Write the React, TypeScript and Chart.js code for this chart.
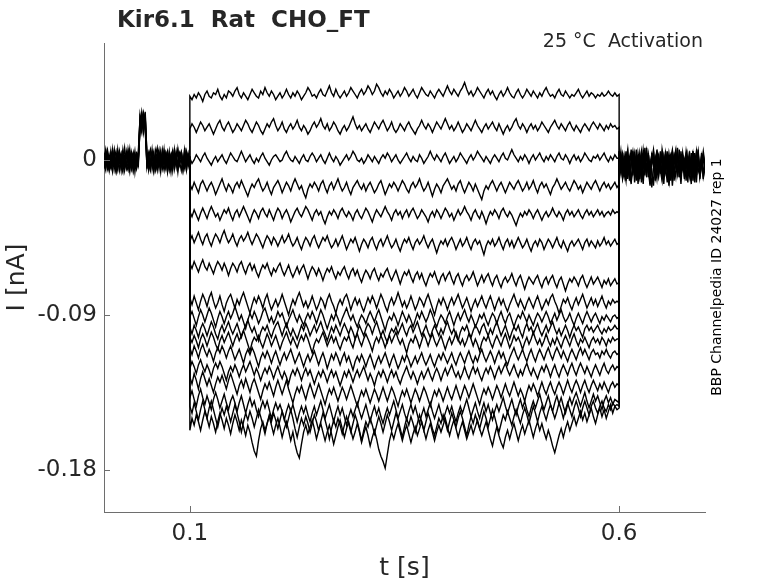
import { useEffect, useRef } from "react";
import Chart from "chart.js/auto";

// sample window edges (s)
const PRE_START = 0;
const STEP_START = 0.1;
const STEP_END = 0.6;
const POST_END = 0.7;

const X_TICKS = [0.1, 0.6];
const Y_TICKS = [-0.18, -0.09, 0];

// holding current before the step (pA), 0 .. 0.1 s, test pulse near 0.042-0.048 s
const PRE_1 = [3,-4,1,-6,2,5,-2,-7,0,4,-3,6,-1,-5,2,-3,4,-6,1,-2,3,24,18,27,21,-4,2,6,-3,-7,1,4,-2,5,-5,0,3,-6,2,-1,5,-4,1,-7,3,0,-3,6,-2,2,-5];
const PRE_2 = [-5,2,6,-1,-4,3,0,-6,5,1,-3,-7,2,4,-2,6,-5,0,3,-4,1,17,25,20,28,2,-5,-1,4,-6,3,7,-3,0,-4,5,1,-7,2,-2,4,-5,3,6,-1,-6,2,-3,5,0,-4];
const PRE_3 = [1,5,-3,-6,4,-1,2,-5,6,-2,0,3,-6,1,5,-4,-1,4,-7,2,0,22,26,16,24,5,-2,-6,3,0,-4,2,6,-5,1,-3,4,-1,-6,3,5,-2,0,-5,4,1,-3,7,-4,-1,2];
const PRE_4 = [-2,-6,4,1,-3,6,-5,2,-1,5,-4,0,7,-3,-6,3,1,-2,5,-5,-1,26,20,23,17,-1,4,-4,1,5,-6,-2,3,-3,6,0,-5,4,1,-7,2,-1,5,-3,0,3,-6,1,4,-4,0];
const PRE_5 = [4,0,-5,3,-2,-7,1,5,-3,2,-6,4,0,-4,6,-1,-5,2,-3,4,2,19,28,22,25,-3,1,5,-5,2,-1,-6,4,0,-3,6,-4,1,-2,3,-6,4,0,-4,2,5,-1,-5,3,-2,1];
const PRE_6 = [0,6,-2,-4,5,-3,3,-1,-6,1,4,-5,2,-2,-4,5,0,-6,3,1,-3,21,16,26,19,3,-6,0,2,-3,5,-4,1,-7,3,-1,4,-2,5,-5,0,2,-4,6,-3,1,-6,3,-1,4,-2];
const PRE_7 = [-4,1,3,-2,-5,0,6,-4,2,-6,1,3,-3,5,-1,-7,2,4,-4,0,5,25,22,18,27,-5,3,-2,6,-4,0,2,-5,4,-1,-6,1,5,-3,2,-4,6,-2,-5,1,4,-3,0,-6,3,1];

// tail after the step (pA), 0.6 .. 0.7 s
const POST_1 = [-3,5,-8,1,-12,3,-5,-14,2,-6,6,-9,-1,-13,4,-4,7,-10,0,-6,-15,2,-3,-9,5,-11,-2,3,-7,-13,1,6,-4,-10,2,-3,-14,3,-6,5,-2,-9,4,-12,0,-5,6,-8,-1,3,-4];
const POST_2 = [2,-6,4,-10,-1,6,-8,-3,5,-13,-4,1,-7,3,-11,-2,5,-6,-15,-3,2,-9,6,-4,0,-10,-3,4,-7,2,-12,-4,3,-1,-8,6,-5,0,-11,3,-6,2,-9,5,-3,-13,1,-5,4,-8,-2];
const POST_3 = [-7,0,4,-5,-12,2,-3,6,-9,-1,-5,3,-11,0,-4,7,-7,-2,-14,4,-3,-10,1,3,-6,-12,2,-4,5,-8,-1,-15,-3,4,-7,0,-11,2,-4,3,-9,1,-6,5,-13,-2,3,-7,0,-10,-5];
const POST_4 = [4,-3,-10,2,-6,3,-12,-1,5,-4,0,-8,4,-3,-14,2,-5,3,-9,0,6,-4,-11,1,-2,4,-8,-3,-13,0,3,-7,2,-4,7,-10,0,-5,-2,3,-8,5,-12,-1,2,-6,4,-9,-3,1,-7];
const POST_5 = [-1,-8,2,-4,5,-11,-3,3,-7,0,-12,4,-2,-6,2,-9,3,-4,-1,-16,-5,0,4,-7,-3,2,-10,5,-4,-1,-8,3,-12,0,4,-5,-3,2,-9,-1,1,-6,-14,3,-2,5,-7,-4,2,-11,0];
const POST_6 = [5,-5,-1,-9,3,-6,1,-13,-2,4,-7,2,-10,-4,6,-3,-8,1,-12,3,-1,-6,5,-9,-2,2,-14,0,-5,4,-3,-11,1,6,-6,-2,-9,4,-4,0,-13,2,-5,3,-8,-1,5,-10,-3,2,-6];
const POST_7 = [-4,2,-11,-6,1,5,-9,-2,3,-7,1,-14,-3,5,-5,0,-10,4,-6,-2,3,-12,-4,2,-8,6,-1,-7,3,-15,-2,4,-6,-3,1,-10,5,-5,0,-12,3,-4,-1,-9,4,-6,2,-11,-2,5,-3];

// current during the 0.1 .. 0.6 s step, one sweep per array (pA)
const SWEEP_1 = [37,35,38,36,39,37,34,38,40,37,36,39,38,41,37,35,38,36,40,39,37,40,42,38,36,39,37,35,38,41,39,37,36,40,38,42,39,37,40,38,35,37,39,36,38,41,38,36,39,37,40,38,35,37,39,42,40,37,38,36,39,41,38,37,40,43,39,37,41,38,36,38,40,37,39,42,40,38,36,39,41,38,40,43,41,38,40,44,42,39,37,40,38,41,39,36,38,40,37,39,42,40,37,39,41,38,36,39,42,40,38,37,40,38,36,39,41,39,37,40,43,40,38,41,39,37,40,42,45,41,38,40,37,39,42,40,38,36,39,41,38,40,37,35,38,40,37,39,42,39,37,36,39,41,38,36,38,41,39,37,40,38,36,39,37,40,42,39,37,38,36,39,41,38,37,40,38,36,38,37,39,41,38,36,38,40,37,39,38,36,38,37,39,37,38,40,38,37,39,37,38];
const SWEEP_2 = [18,21,19,16,19,22,20,17,19,21,18,15,18,21,23,19,17,20,22,19,16,18,21,19,17,20,23,21,18,16,19,22,20,17,15,18,21,19,22,24,20,17,19,22,18,16,19,21,18,20,23,19,17,20,18,15,17,20,22,19,21,24,20,18,21,17,19,22,20,17,15,18,20,17,19,22,25,21,18,20,17,19,21,18,16,19,22,20,18,21,23,20,17,19,22,18,16,18,21,19,17,20,22,19,17,15,18,20,23,20,18,21,19,16,19,22,20,18,21,24,21,18,20,17,19,22,19,16,18,21,19,17,20,23,20,18,16,19,21,18,20,22,19,17,21,18,15,18,20,17,19,22,24,20,18,21,19,16,19,21,18,20,17,19,22,20,18,16,19,21,23,20,18,21,19,17,20,22,19,17,20,18,16,19,21,19,17,20,22,20,18,21,19,17,20,18,21,19,20,18,19];
const SWEEP_3 = [1,-2,0,3,1,-1,2,4,1,-1,-3,0,2,-1,1,3,0,-2,1,4,2,0,-1,2,5,2,-1,1,3,0,-2,1,-1,2,4,1,-1,-3,0,2,3,1,-1,0,3,5,2,0,-1,2,0,-2,1,3,0,-1,2,4,2,-1,1,3,0,-2,1,4,1,-1,2,0,-3,-1,1,3,0,2,5,3,0,-1,1,-2,0,3,1,-1,2,0,-2,1,3,1,4,2,-1,1,3,0,-2,0,2,4,1,-1,2,0,-1,3,1,-2,0,2,5,2,0,3,1,-1,2,4,1,-2,0,2,-1,1,4,2,0,-2,1,3,0,2,5,3,1,-1,2,0,-2,1,3,1,-1,2,4,1,0,3,6,3,1,-1,2,0,3,1,-2,1,3,0,2,4,1,-1,2,0,3,1,-1,2,4,1,0,3,1,-2,1,3,0,2,-1,1,4,2,0,-1,2,1,3,0,2,4,1,-1,2,0,3,1,1];
const SWEEP_4 = [-14,-17,-13,-16,-19,-14,-12,-15,-18,-15,-13,-16,-20,-17,-14,-11,-15,-18,-14,-16,-19,-15,-13,-16,-12,-15,-18,-21,-17,-14,-16,-13,-11,-15,-18,-16,-13,-17,-20,-16,-14,-12,-15,-19,-16,-13,-15,-18,-14,-11,-14,-17,-15,-19,-22,-17,-14,-16,-13,-15,-18,-14,-12,-16,-19,-15,-13,-17,-14,-11,-15,-18,-16,-13,-17,-20,-16,-14,-12,-15,-17,-14,-18,-15,-13,-16,-19,-17,-14,-12,-16,-20,-17,-14,-16,-13,-15,-18,-15,-12,-14,-17,-19,-15,-13,-16,-14,-11,-15,-18,-16,-13,-17,-21,-17,-14,-16,-19,-15,-13,-11,-14,-17,-15,-18,-14,-12,-16,-19,-16,-13,-15,-18,-14,-17,-20,-23,-18,-15,-17,-14,-12,-15,-18,-15,-13,-16,-19,-16,-13,-15,-17,-14,-12,-15,-18,-16,-13,-17,-15,-12,-16,-19,-15,-13,-16,-14,-17,-20,-16,-14,-11,-14,-17,-15,-13,-16,-18,-15,-12,-14,-17,-15,-19,-16,-13,-15,-17,-14,-12,-15,-18,-15,-13,-16,-14,-17,-15,-13,-16,-14];
const SWEEP_5 = [-30,-33,-29,-32,-35,-31,-28,-31,-34,-30,-27,-30,-33,-31,-35,-32,-29,-31,-28,-32,-35,-31,-29,-33,-30,-27,-30,-33,-36,-32,-29,-31,-34,-30,-28,-31,-33,-29,-32,-35,-31,-28,-30,-34,-31,-29,-32,-36,-33,-30,-28,-31,-33,-30,-27,-29,-32,-35,-31,-29,-32,-30,-34,-37,-33,-30,-32,-29,-31,-34,-30,-28,-31,-33,-30,-32,-35,-31,-29,-32,-34,-31,-28,-30,-33,-36,-32,-29,-31,-33,-30,-27,-30,-32,-35,-31,-29,-32,-30,-34,-31,-29,-33,-30,-28,-31,-34,-32,-29,-31,-33,-36,-32,-30,-33,-29,-31,-34,-31,-28,-30,-33,-31,-35,-32,-29,-32,-30,-27,-30,-32,-35,-31,-29,-32,-34,-30,-33,-37,-33,-30,-32,-29,-31,-34,-30,-28,-31,-33,-30,-32,-35,-38,-34,-31,-33,-30,-32,-29,-31,-34,-31,-29,-32,-35,-32,-30,-33,-31,-28,-31,-33,-30,-32,-35,-31,-29,-32,-30,-33,-31,-29,-32,-34,-31,-29,-32,-30,-33,-31,-29,-32,-30,-33,-31,-30,-32,-29,-31,-30,-31];
const SWEEP_6 = [-47,-44,-48,-45,-42,-46,-49,-45,-43,-47,-50,-46,-43,-45,-48,-44,-41,-45,-48,-46,-43,-47,-50,-46,-44,-47,-45,-42,-46,-49,-46,-43,-45,-48,-51,-47,-44,-46,-49,-45,-47,-50,-47,-44,-48,-46,-43,-47,-50,-48,-45,-49,-52,-48,-45,-47,-50,-46,-44,-48,-51,-48,-45,-47,-44,-48,-51,-49,-46,-50,-47,-44,-48,-52,-49,-46,-48,-45,-49,-53,-49,-46,-48,-51,-47,-45,-49,-52,-48,-46,-50,-47,-44,-48,-51,-49,-46,-50,-53,-49,-46,-48,-45,-49,-52,-48,-46,-49,-47,-44,-48,-51,-48,-46,-50,-54,-50,-47,-49,-46,-50,-47,-45,-48,-52,-49,-46,-50,-48,-45,-49,-52,-48,-46,-49,-47,-51,-55,-50,-47,-49,-46,-50,-48,-45,-49,-52,-48,-46,-50,-47,-51,-48,-45,-48,-51,-49,-46,-50,-53,-49,-47,-50,-46,-48,-52,-49,-46,-48,-51,-48,-45,-49,-51,-47,-50,-53,-49,-47,-50,-48,-46,-49,-52,-48,-46,-50,-47,-49,-51,-47,-50,-48,-45,-49,-47,-50,-48,-46,-49,-48];
const SWEEP_7 = [-60,-63,-59,-62,-65,-61,-58,-62,-64,-60,-63,-66,-62,-59,-61,-64,-60,-63,-67,-63,-60,-62,-65,-61,-59,-63,-66,-62,-60,-64,-61,-65,-68,-64,-61,-63,-60,-64,-67,-63,-65,-62,-60,-64,-67,-64,-61,-65,-68,-65,-62,-66,-63,-61,-65,-69,-65,-62,-64,-67,-63,-66,-70,-66,-63,-65,-62,-66,-69,-65,-67,-64,-62,-66,-69,-65,-63,-67,-64,-68,-71,-67,-64,-66,-69,-65,-63,-67,-70,-66,-68,-65,-63,-67,-70,-67,-64,-68,-72,-68,-65,-67,-64,-68,-71,-67,-65,-69,-66,-70,-73,-69,-66,-68,-65,-69,-72,-68,-66,-70,-67,-65,-69,-72,-68,-66,-70,-73,-69,-67,-70,-68,-65,-69,-73,-70,-67,-71,-68,-66,-70,-73,-69,-67,-71,-74,-70,-68,-71,-69,-66,-70,-73,-69,-67,-71,-75,-71,-68,-70,-72,-69,-67,-71,-74,-70,-68,-72,-69,-67,-71,-74,-70,-68,-72,-76,-72,-69,-71,-68,-70,-73,-69,-67,-71,-74,-71,-68,-72,-70,-68,-71,-74,-70,-72,-69,-73,-71,-69,-72,-71];
const SWEEP_8 = [-80,-84,-79,-83,-87,-82,-78,-81,-85,-80,-77,-82,-86,-83,-79,-84,-88,-83,-80,-78,-82,-86,-81,-84,-80,-77,-81,-85,-89,-84,-80,-83,-79,-82,-86,-81,-78,-83,-87,-84,-81,-85,-82,-78,-82,-86,-90,-85,-81,-84,-80,-77,-81,-85,-82,-86,-83,-79,-83,-87,-84,-80,-82,-86,-81,-78,-82,-85,-89,-84,-81,-84,-80,-78,-82,-87,-83,-80,-84,-81,-85,-88,-84,-80,-83,-79,-82,-86,-82,-78,-81,-85,-88,-83,-80,-84,-81,-77,-81,-85,-82,-86,-83,-79,-83,-87,-84,-80,-82,-85,-81,-78,-82,-86,-90,-85,-81,-84,-80,-83,-87,-83,-80,-84,-81,-78,-82,-86,-83,-80,-84,-88,-84,-81,-85,-82,-79,-83,-86,-82,-79,-83,-87,-83,-80,-84,-81,-85,-88,-84,-81,-78,-82,-85,-81,-84,-87,-83,-80,-83,-86,-82,-79,-83,-87,-84,-81,-84,-80,-78,-82,-85,-89,-85,-81,-83,-80,-84,-87,-83,-80,-84,-81,-78,-82,-86,-83,-80,-84,-81,-85,-82,-79,-83,-86,-82,-84,-81,-83,-82,-83];
const SWEEP_9 = [-91,-88,-92,-96,-91,-87,-90,-94,-90,-86,-89,-93,-97,-92,-88,-91,-95,-91,-88,-92,-89,-85,-89,-93,-90,-94,-98,-93,-89,-92,-88,-91,-95,-92,-88,-86,-90,-94,-91,-95,-92,-88,-91,-89,-93,-97,-93,-90,-87,-91,-94,-90,-93,-96,-92,-89,-92,-88,-91,-95,-91,-87,-90,-94,-98,-94,-90,-93,-89,-92,-96,-92,-89,-86,-90,-93,-90,-94,-97,-93,-90,-92,-95,-91,-88,-91,-94,-90,-87,-91,-95,-99,-94,-91,-93,-89,-92,-96,-92,-88,-91,-94,-90,-93,-97,-93,-89,-92,-88,-91,-94,-91,-87,-90,-94,-97,-93,-90,-92,-95,-91,-88,-92,-96,-92,-89,-93,-90,-87,-91,-94,-90,-93,-97,-94,-90,-92,-89,-93,-96,-92,-89,-91,-95,-91,-88,-92,-95,-91,-89,-93,-97,-93,-90,-92,-88,-91,-94,-90,-93,-96,-92,-89,-91,-94,-91,-88,-91,-95,-92,-89,-93,-90,-87,-91,-94,-92,-89,-93,-96,-92,-89,-92,-95,-91,-88,-91,-94,-91,-89,-92,-95,-91,-93,-90,-92,-94,-91,-90,-92,-91];
const SWEEP_10 = [-97,-101,-96,-99,-103,-98,-95,-98,-102,-98,-94,-97,-101,-104,-99,-96,-100,-97,-94,-98,-101,-98,-95,-99,-103,-99,-96,-93,-97,-100,-97,-101,-105,-100,-97,-99,-96,-100,-103,-99,-96,-94,-98,-102,-98,-95,-99,-102,-98,-101,-104,-100,-96,-99,-95,-98,-102,-99,-96,-100,-97,-94,-98,-101,-105,-101,-97,-100,-96,-99,-102,-98,-95,-98,-101,-97,-100,-104,-100,-96,-99,-102,-98,-95,-97,-101,-97,-94,-98,-102,-99,-103,-106,-101,-98,-100,-97,-101,-98,-95,-99,-102,-98,-96,-100,-97,-94,-98,-102,-99,-96,-100,-103,-99,-96,-99,-102,-98,-101,-97,-94,-98,-101,-98,-102,-105,-100,-97,-99,-96,-100,-103,-99,-96,-98,-101,-97,-95,-99,-102,-98,-101,-97,-94,-98,-102,-99,-96,-100,-104,-100,-97,-99,-96,-100,-103,-98,-95,-99,-97,-101,-98,-95,-99,-102,-99,-96,-100,-97,-94,-98,-101,-98,-102,-99,-96,-99,-103,-99,-96,-99,-97,-100,-103,-98,-96,-99,-97,-100,-98,-96,-99,-101,-98,-100,-97,-99,-98,-96,-98,-98];
const SWEEP_11 = [-103,-106,-102,-105,-109,-104,-101,-104,-108,-104,-100,-103,-107,-110,-105,-102,-106,-103,-100,-104,-108,-104,-101,-105,-102,-99,-103,-107,-111,-106,-103,-105,-102,-106,-109,-105,-101,-104,-108,-105,-102,-106,-110,-106,-103,-100,-104,-107,-103,-106,-109,-105,-102,-105,-101,-104,-108,-112,-107,-104,-106,-103,-100,-104,-108,-105,-102,-106,-103,-107,-110,-106,-103,-105,-102,-106,-109,-104,-101,-105,-108,-104,-101,-104,-107,-111,-106,-103,-106,-102,-105,-109,-105,-102,-106,-103,-100,-104,-107,-104,-108,-112,-107,-104,-106,-102,-105,-109,-105,-101,-104,-108,-104,-101,-105,-108,-105,-102,-106,-110,-106,-103,-107,-104,-100,-104,-107,-104,-108,-105,-101,-104,-108,-104,-107,-111,-106,-103,-105,-102,-106,-109,-105,-102,-105,-108,-104,-101,-105,-109,-106,-102,-105,-103,-106,-110,-106,-103,-107,-104,-100,-104,-107,-104,-108,-105,-101,-105,-108,-104,-107,-103,-106,-109,-105,-102,-105,-108,-104,-101,-105,-108,-104,-106,-103,-106,-109,-105,-103,-106,-104,-107,-103,-105,-108,-104,-106,-103,-105,-104,-104];
const SWEEP_12 = [-109,-113,-108,-111,-115,-110,-107,-111,-114,-110,-113,-117,-112,-109,-112,-108,-111,-115,-111,-108,-112,-116,-113,-110,-114,-118,-113,-110,-113,-109,-112,-116,-120,-115,-112,-115,-111,-114,-118,-114,-111,-115,-119,-115,-112,-116,-113,-110,-114,-118,-115,-112,-116,-120,-116,-113,-117,-114,-111,-115,-119,-115,-112,-116,-121,-117,-113,-116,-112,-115,-119,-115,-112,-117,-114,-118,-122,-117,-114,-117,-113,-116,-120,-116,-113,-117,-121,-117,-114,-118,-115,-112,-116,-120,-116,-113,-117,-121,-118,-114,-117,-113,-116,-120,-117,-114,-118,-115,-112,-116,-119,-116,-113,-117,-120,-116,-113,-116,-112,-115,-118,-115,-112,-116,-119,-115,-112,-115,-118,-114,-111,-115,-118,-114,-117,-113,-110,-114,-117,-114,-111,-114,-118,-114,-111,-115,-112,-116,-119,-115,-112,-109,-113,-116,-113,-110,-114,-117,-113,-110,-114,-117,-113,-110,-113,-116,-112,-109,-113,-116,-112,-109,-112,-115,-111,-114,-117,-113,-110,-113,-116,-112,-109,-113,-110,-113,-116,-112,-110,-113,-112,-115,-111,-113,-110,-113,-115,-112,-111,-113,-112];
const SWEEP_13 = [-121,-117,-120,-124,-119,-116,-120,-123,-119,-122,-126,-121,-118,-121,-117,-120,-124,-128,-123,-120,-123,-119,-122,-126,-122,-119,-123,-120,-117,-121,-125,-121,-124,-128,-124,-121,-124,-120,-123,-127,-123,-120,-124,-127,-123,-126,-130,-125,-122,-125,-121,-124,-128,-124,-121,-125,-122,-126,-130,-126,-123,-126,-122,-125,-129,-125,-122,-126,-123,-127,-131,-127,-123,-126,-122,-125,-129,-125,-122,-126,-123,-120,-124,-128,-124,-127,-131,-126,-123,-126,-122,-125,-129,-125,-122,-126,-123,-127,-130,-126,-123,-120,-124,-127,-123,-126,-130,-126,-123,-127,-124,-121,-125,-128,-124,-121,-124,-128,-124,-121,-125,-122,-119,-123,-126,-123,-127,-124,-120,-124,-127,-123,-120,-124,-121,-125,-128,-124,-121,-124,-120,-123,-127,-123,-120,-124,-121,-118,-122,-125,-122,-119,-123,-126,-122,-125,-121,-118,-122,-125,-121,-124,-127,-123,-120,-123,-119,-122,-126,-122,-119,-123,-126,-122,-119,-122,-125,-121,-118,-122,-125,-121,-118,-121,-124,-120,-123,-126,-122,-119,-122,-125,-121,-118,-122,-124,-121,-119,-122,-120,-121];
const SWEEP_14 = [-126,-130,-124,-128,-133,-127,-123,-127,-131,-127,-131,-135,-130,-126,-129,-125,-129,-133,-128,-124,-128,-132,-136,-131,-128,-132,-127,-131,-135,-130,-127,-131,-135,-139,-134,-130,-133,-129,-133,-137,-132,-128,-132,-136,-132,-128,-133,-137,-141,-136,-132,-135,-131,-135,-139,-134,-130,-134,-138,-134,-130,-134,-138,-142,-137,-133,-136,-132,-136,-140,-136,-132,-135,-139,-135,-131,-135,-139,-143,-138,-134,-137,-133,-137,-141,-137,-133,-136,-140,-136,-132,-136,-140,-136,-132,-135,-139,-143,-138,-134,-137,-133,-137,-141,-137,-133,-136,-140,-136,-132,-135,-139,-143,-138,-134,-137,-133,-136,-140,-136,-132,-136,-139,-135,-131,-135,-139,-135,-131,-134,-138,-134,-130,-134,-138,-142,-137,-133,-136,-132,-135,-139,-135,-131,-134,-138,-134,-130,-134,-137,-133,-129,-133,-137,-133,-136,-140,-135,-131,-134,-130,-133,-137,-133,-129,-133,-136,-132,-129,-133,-136,-132,-129,-132,-136,-132,-128,-132,-135,-131,-128,-131,-135,-131,-128,-132,-135,-131,-128,-131,-134,-130,-133,-129,-132,-135,-131,-129,-132,-130,-131];
const SWEEP_15 = [-138,-134,-139,-143,-137,-133,-138,-142,-137,-141,-145,-139,-135,-139,-144,-140,-136,-141,-145,-140,-137,-141,-146,-141,-137,-142,-147,-142,-138,-143,-140,-145,-149,-144,-140,-144,-140,-145,-150,-145,-141,-145,-142,-146,-151,-146,-142,-146,-142,-147,-152,-147,-143,-147,-143,-148,-152,-147,-143,-148,-144,-140,-145,-150,-146,-142,-147,-152,-147,-143,-148,-144,-149,-154,-149,-145,-149,-145,-141,-146,-150,-146,-142,-147,-152,-147,-143,-148,-144,-149,-153,-148,-144,-148,-144,-140,-145,-150,-146,-142,-147,-151,-146,-142,-147,-143,-148,-153,-148,-144,-149,-145,-141,-146,-150,-146,-142,-147,-151,-147,-143,-147,-143,-148,-152,-147,-143,-147,-143,-139,-144,-149,-145,-141,-146,-150,-145,-141,-146,-142,-147,-151,-146,-142,-146,-142,-138,-143,-147,-143,-139,-144,-148,-143,-139,-144,-140,-145,-149,-144,-140,-144,-140,-136,-141,-145,-141,-137,-142,-146,-141,-137,-142,-138,-143,-147,-142,-138,-142,-138,-135,-139,-143,-139,-135,-140,-144,-140,-136,-140,-137,-141,-145,-140,-137,-141,-138,-142,-139,-140,-141];
const SWEEP_16 = [-143,-147,-141,-146,-151,-145,-140,-145,-150,-144,-140,-145,-150,-155,-149,-144,-148,-143,-147,-152,-147,-142,-147,-152,-158,-152,-147,-151,-146,-150,-155,-150,-145,-149,-154,-159,-153,-148,-152,-147,-151,-156,-151,-146,-150,-155,-150,-145,-150,-156,-161,-155,-150,-154,-149,-153,-158,-153,-148,-152,-157,-152,-147,-151,-156,-162,-156,-151,-155,-150,-154,-159,-154,-149,-153,-158,-153,-148,-152,-157,-163,-157,-152,-155,-150,-154,-159,-154,-149,-153,-158,-153,-148,-152,-157,-152,-147,-151,-156,-161,-155,-150,-154,-149,-153,-158,-153,-148,-152,-157,-152,-147,-151,-156,-160,-155,-150,-153,-148,-152,-157,-152,-147,-151,-155,-150,-146,-150,-155,-160,-154,-149,-153,-148,-152,-156,-151,-146,-150,-155,-150,-145,-149,-154,-158,-153,-148,-151,-146,-150,-154,-149,-145,-149,-153,-148,-144,-148,-153,-148,-143,-147,-152,-147,-143,-147,-151,-146,-142,-146,-150,-146,-141,-145,-150,-145,-141,-145,-149,-144,-140,-144,-149,-144,-140,-144,-148,-143,-140,-144,-147,-143,-140,-144,-146,-142,-145,-141,-143,-142,-143];
const SWEEP_17 = [-157,-150,-154,-148,-152,-157,-151,-146,-150,-155,-149,-153,-158,-152,-147,-151,-156,-150,-154,-159,-153,-148,-152,-157,-151,-155,-160,-154,-158,-164,-169,-172,-163,-156,-152,-157,-153,-149,-154,-159,-154,-150,-155,-161,-156,-152,-157,-163,-158,-165,-170,-173,-165,-158,-154,-159,-155,-151,-156,-162,-157,-153,-158,-163,-158,-154,-159,-165,-160,-155,-151,-156,-161,-156,-152,-157,-162,-158,-153,-158,-164,-159,-155,-160,-166,-161,-157,-162,-168,-172,-175,-179,-171,-163,-158,-162,-157,-153,-158,-163,-158,-154,-159,-164,-159,-155,-160,-156,-152,-157,-162,-157,-153,-158,-163,-158,-154,-158,-154,-150,-155,-160,-155,-151,-156,-161,-156,-152,-157,-162,-158,-154,-159,-155,-151,-156,-160,-156,-152,-157,-162,-166,-160,-155,-160,-164,-167,-161,-157,-162,-157,-153,-158,-163,-158,-154,-159,-155,-151,-156,-161,-156,-152,-157,-153,-158,-162,-157,-161,-166,-170,-165,-160,-156,-161,-156,-152,-157,-153,-149,-154,-150,-146,-151,-147,-152,-148,-144,-149,-153,-148,-144,-149,-145,-150,-146,-142,-147,-143,-145,-144];

const PRE = [PRE_1, PRE_2, PRE_3, PRE_4, PRE_5, PRE_6, PRE_7];
const POST = [POST_1, POST_2, POST_3, POST_4, POST_5, POST_6, POST_7];
const SWEEPS = [
  SWEEP_1, SWEEP_2, SWEEP_3, SWEEP_4, SWEEP_5, SWEEP_6, SWEEP_7, SWEEP_8, SWEEP_9,
  SWEEP_10, SWEEP_11, SWEEP_12, SWEEP_13, SWEEP_14, SWEEP_15, SWEEP_16, SWEEP_17,
];

const AXIS_COLOR = "#6e6e6e";
const TEXT_COLOR = "#262626";
const FONT = "'DejaVu Sans', 'Liberation Sans', sans-serif";

// pA samples spread evenly over [t0, t1], returned in nA
function toPoints(values: number[], t0: number, t1: number) {
  const dt = (t1 - t0) / (values.length - 1);
  return values.map((v, i) => ({ x: t0 + i * dt, y: v / 1000 }));
}

const decorations = {
  id: "decorations",
  afterDraw(chart: any) {
    const { ctx, chartArea, scales } = chart;
    ctx.save();
    ctx.strokeStyle = AXIS_COLOR;
    ctx.lineWidth = 1;
    X_TICKS.forEach((v) => {
      const px = Math.round(scales.x.getPixelForValue(v)) + 0.5;
      ctx.beginPath();
      ctx.moveTo(px, chartArea.bottom);
      ctx.lineTo(px, chartArea.bottom - 6);
      ctx.stroke();
    });
    Y_TICKS.forEach((v) => {
      const py = Math.round(scales.y.getPixelForValue(v)) + 0.5;
      ctx.beginPath();
      ctx.moveTo(chartArea.left, py);
      ctx.lineTo(chartArea.left + 6, py);
      ctx.stroke();
    });

    ctx.fillStyle = TEXT_COLOR;
    ctx.font = `bold 23px ${FONT}`;
    ctx.textAlign = "left";
    ctx.textBaseline = "alphabetic";
    ctx.fillText("Kir6.1  Rat  CHO_FT", 117, 27);

    ctx.font = `19px ${FONT}`;
    ctx.textAlign = "right";
    ctx.fillText("25 °C  Activation", 703, 47);

    ctx.translate(717, 277);
    ctx.rotate(-Math.PI / 2);
    ctx.font = `14px ${FONT}`;
    ctx.textAlign = "center";
    ctx.textBaseline = "middle";
    ctx.fillStyle = "#000";
    ctx.fillText("BBP Channelpedia ID 24027 rep 1", 0, 0);
    ctx.restore();
  },
};

export default function App() {
  const canvasRef = useRef<HTMLCanvasElement | null>(null);
  const chartRef = useRef<Chart | null>(null);

  useEffect(() => {
    document.body.style.margin = "0";
    if (!canvasRef.current) return;
    if (chartRef.current) chartRef.current.destroy();

    const lineStyle = {
      borderColor: "#000",
      borderWidth: 1.4,
      pointRadius: 0,
      fill: false,
      tension: 0,
    };

    const datasets: any[] = [];
    PRE.forEach((p) => datasets.push({ ...lineStyle, data: toPoints(p, PRE_START, STEP_START) }));
    POST.forEach((p) => datasets.push({ ...lineStyle, data: toPoints(p, STEP_END, POST_END) }));
    SWEEPS.forEach((s, i) => {
      const before = PRE[i % PRE.length];
      const after = POST[i % POST.length];
      datasets.push({
        ...lineStyle,
        data: [
          { x: STEP_START, y: before[before.length - 1] / 1000 },
          ...toPoints(s, STEP_START, STEP_END),
          { x: STEP_END, y: after[0] / 1000 },
        ],
      });
    });

    chartRef.current = new Chart(canvasRef.current, {
      type: "line",
      data: { datasets },
      options: {
        responsive: true,
        maintainAspectRatio: false,
        animation: false,
        parsing: false,
        layout: { padding: { top: 43, right: 73, bottom: 0, left: 0 } },
        plugins: {
          legend: { display: false },
          tooltip: { enabled: false },
        },
        scales: {
          x: {
            type: "linear",
            min: 0,
            max: 0.7,
            afterBuildTicks: (scale: any) => {
              scale.ticks = X_TICKS.map((value) => ({ value }));
            },
            afterFit: (scale: any) => {
              scale.height = 71;
            },
            grid: { display: false, drawTicks: false },
            border: { display: true, color: AXIS_COLOR, width: 1 },
            ticks: {
              color: TEXT_COLOR,
              padding: 8,
              maxRotation: 0,
              font: { family: FONT, size: 23 },
              callback: (v: any) => String(v),
            },
            title: {
              display: true,
              text: "t [s]",
              color: TEXT_COLOR,
              font: { family: FONT, size: 25 },
              padding: { top: 0, bottom: 0 },
            },
          },
          y: {
            type: "linear",
            min: -0.2044,
            max: 0.0679,
            afterBuildTicks: (scale: any) => {
              scale.ticks = Y_TICKS.map((value) => ({ value }));
            },
            afterFit: (scale: any) => {
              scale.width = 104;
            },
            grid: { display: false, drawTicks: false },
            border: { display: true, color: AXIS_COLOR, width: 1 },
            ticks: {
              color: TEXT_COLOR,
              padding: 7,
              font: { family: FONT, size: 23 },
              callback: (v: any) => String(v),
            },
            title: {
              display: true,
              text: "I [nA]",
              color: TEXT_COLOR,
              font: { family: FONT, size: 25 },
              padding: { top: 2, bottom: 0 },
            },
          },
        },
      },
      plugins: [decorations],
    });

    return () => {
      if (chartRef.current) {
        chartRef.current.destroy();
        chartRef.current = null;
      }
    };
  }, []);

  return (
    <div style={{ position: "absolute", left: 0, top: 0, width: 778, height: 583 }}>
      <canvas ref={canvasRef} />
    </div>
  );
}
